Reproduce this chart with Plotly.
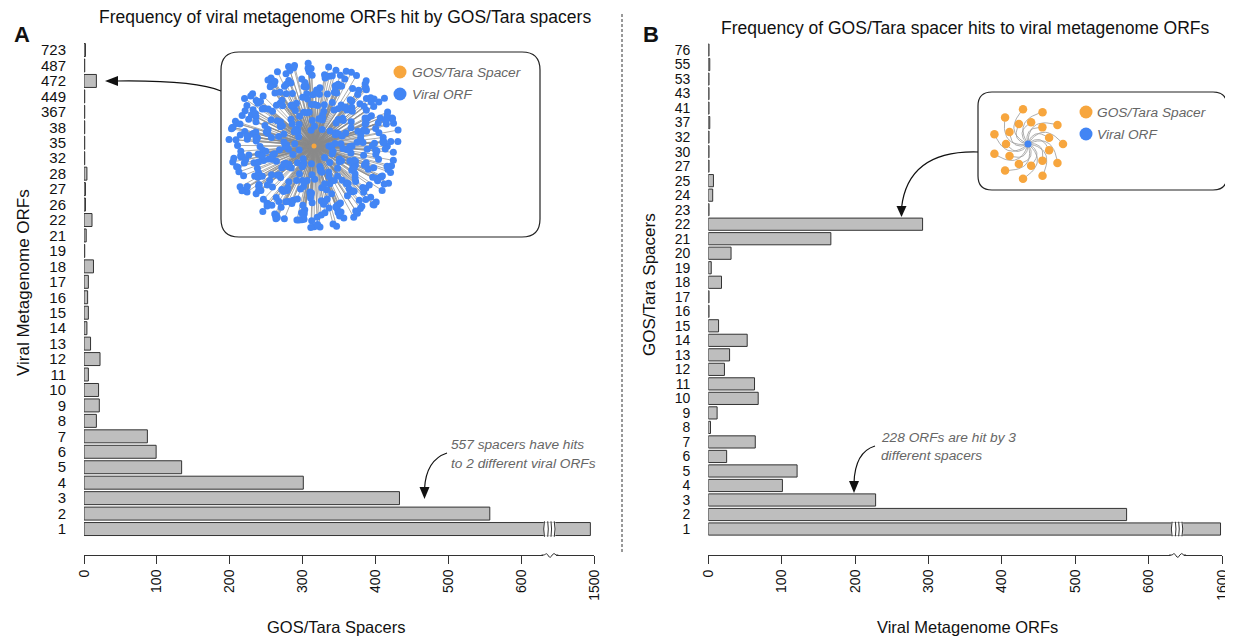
import numpy as np
import plotly.graph_objects as go

FONT = "Liberation Sans, Arial, Helvetica, sans-serif"

# ---------------- data ----------------
# Panel A: number of viral ORFs hit by a spacer (category) -> number of spacers
a_labels = ["1", "2", "3", "4", "5", "6", "7", "8", "9", "10", "11", "12", "13", "14",
            "15", "16", "17", "18", "19", "21", "22", "26", "27", "28", "32", "35", "38",
            "367", "449", "472", "487", "723"]
a_values = [1495, 557, 433, 301, 134, 99, 87, 17, 21, 20, 6, 22, 9, 4,
            6, 5, 6, 13, 1, 3, 11, 2, 2, 4, 1, 1, 1,
            1, 1, 17, 1, 2]
a_ticks = [0, 100, 200, 300, 400, 500, 600, 1500]

# Panel B: number of spacers hitting an ORF (category) -> number of ORFs
b_labels = ["1", "2", "3", "4", "5", "6", "7", "8", "9", "10", "11", "12", "13", "14",
            "15", "16", "17", "18", "19", "20", "21", "22", "23", "24", "25", "27", "30",
            "32", "37", "41", "43", "53", "55", "76"]
b_values = [1598, 570, 228, 101, 121, 25, 64, 3, 12, 68, 63, 22, 29, 53,
            14, 1, 1, 18, 4, 31, 167, 292, 1, 6, 7, 1, 1,
            1, 2, 1, 1, 1, 2, 1]
b_ticks = [0, 100, 200, 300, 400, 500, 600, 1600]

inset_a_nodes = 472   # ORFs hit by a single spacer (bar "472")
inset_b_nodes = 22    # spacers hitting a single ORF (bar "22")

BREAK = 650   # axis is broken above this value
TOP = 700     # display position of the last (post-break) tick


def shown(v, top_value):
    return v if v <= BREAK else TOP - (top_value - v)


# page geometry: the figure sits 8px in from the window corner (body margin)
SW, SH = 1233, 638
OX, OY = 8, 8
FW, FH = SW - OX, SH - OY


def dx(s):
    return (s - OX) / FW


def dy(s):
    return 1 - (s - OY) / FH


GREY = "#BEBEBE"
EDGE = "#333333"
BLUE = "#4285F4"
ORANGE = "#F7A63E"

fig = go.Figure()

fig.add_trace(go.Bar(
    x=[shown(v, a_ticks[-1]) for v in a_values], y=list(range(len(a_labels))),
    orientation="h", width=0.84, marker=dict(color=GREY, line=dict(color=EDGE, width=1)),
    customdata=a_values, hovertemplate="%{customdata}<extra></extra>",
    xaxis="x", yaxis="y"))
fig.add_trace(go.Bar(
    x=[shown(v, b_ticks[-1]) for v in b_values], y=list(range(len(b_labels))),
    orientation="h", width=0.84, marker=dict(color=GREY, line=dict(color=EDGE, width=1)),
    customdata=b_values, hovertemplate="%{customdata}<extra></extra>",
    xaxis="x2", yaxis="y2"))

# ---------------- inset A network (screen-pixel overlay axes) ----------------
cxa, cya, Ra = 314, 146, 86
i = np.arange(inset_a_nodes)
u = 0.03 + 0.97 * ((i * 0.41421356) % 1.0)
r = Ra * u ** 0.5
th = i * 2.39996 + 0.6 * np.sin(i * 1.7)
nxa = cxa + r * np.cos(th)
nya = cya + r * np.sin(th) * 0.97
ex, ey = [], []
for x, y in zip(nxa, nya):
    ex += [cxa, x, None]
    ey += [cya, y, None]
fig.add_trace(go.Scatter(x=ex, y=ey, mode="lines", line=dict(color="#8a8a8a", width=0.7),
                         hoverinfo="skip", xaxis="x3", yaxis="y3"))
fig.add_trace(go.Scatter(x=nxa, y=nya, mode="markers", marker=dict(color=BLUE, size=7),
                         hoverinfo="skip", xaxis="x3", yaxis="y3"))
fig.add_trace(go.Scatter(x=[cxa], y=[cya], mode="markers", marker=dict(color=ORANGE, size=5),
                         hoverinfo="skip", xaxis="x3", yaxis="y3"))

# ---------------- inset B network ----------------
cxb, cyb = 1028, 144
bx, by, ebx, eby = [], [], [], []
t = np.linspace(0, 1, 16)
for k in range(inset_b_nodes):
    ang = 2 * np.pi * k / inset_b_nodes
    rr = 35 if k % 2 == 0 else 22
    x2, y2 = cxb + rr * np.cos(ang), cyb + rr * np.sin(ang)
    c1x = cxb + 0.8 * rr * np.cos(ang - 1.0)
    c1y = cyb + 0.8 * rr * np.sin(ang - 1.0)
    qx = (1 - t) ** 2 * cxb + 2 * (1 - t) * t * c1x + t ** 2 * x2
    qy = (1 - t) ** 2 * cyb + 2 * (1 - t) * t * c1y + t ** 2 * y2
    ebx += list(qx) + [None]
    eby += list(qy) + [None]
    bx.append(x2)
    by.append(y2)
fig.add_trace(go.Scatter(x=ebx, y=eby, mode="lines", line=dict(color="#999999", width=0.8),
                         hoverinfo="skip", xaxis="x3", yaxis="y3"))
fig.add_trace(go.Scatter(x=bx, y=by, mode="markers", marker=dict(color=ORANGE, size=8.5),
                         hoverinfo="skip", xaxis="x3", yaxis="y3"))
fig.add_trace(go.Scatter(x=[cxb], y=[cyb], mode="markers", marker=dict(color=BLUE, size=7),
                         hoverinfo="skip", xaxis="x3", yaxis="y3"))

# legend dots inside insets
fig.add_trace(go.Scatter(x=[400, 400, 1086, 1086], y=[72, 94, 112, 134], mode="markers",
                         marker=dict(color=[ORANGE, BLUE, ORANGE, BLUE], size=13),
                         hoverinfo="skip", xaxis="x3", yaxis="y3"))

# ---------------- axes ----------------
ytop = 40
yaxis_line = 555
ax_common = dict(showgrid=False, zeroline=False, fixedrange=True, automargin=False)
xa = dict(range=[0, TOP], showline=True, linecolor=EDGE, linewidth=1, ticks="outside", ticklen=8,
          tickcolor=EDGE, tickangle=-90, tickfont=dict(size=14, color="#111"),
          ticklabeloverflow="allow", **ax_common)
fig.update_layout(
    xaxis=dict(domain=[dx(84), dx(594)], anchor="y",
               tickvals=[shown(v, a_ticks[-1]) for v in a_ticks], ticktext=[str(v) for v in a_ticks], **xa),
    yaxis=dict(domain=[dy(yaxis_line), dy(ytop)], range=[-1.68, 31.65], anchor="x",
               tickvals=list(range(len(a_labels))), ticktext=a_labels, ticks="",
               ticklabelstandoff=17, showline=False, tickfont=dict(size=15, color="#111"), **ax_common),
    xaxis2=dict(domain=[dx(708.3), dx(1222)], anchor="y2",
                tickvals=[shown(v, b_ticks[-1]) for v in b_ticks], ticktext=[str(v) for v in b_ticks], **xa),
    yaxis2=dict(domain=[dy(yaxis_line), dy(ytop)], range=[-1.79, 33.69], anchor="x2",
                tickvals=list(range(len(b_labels))), ticktext=b_labels, ticks="",
                ticklabelstandoff=17, showline=False, tickfont=dict(size=14, color="#111"), **ax_common),
    xaxis3=dict(domain=[0, 1], range=[OX, SW], visible=False, anchor="y3", **ax_common),
    yaxis3=dict(domain=[0, 1], range=[SH, OY], visible=False, anchor="x3", **ax_common),
)


def rounded(x0, y0, x1, y1, rad):
    return (f"M {x0 + rad},{y0} L {x1 - rad},{y0} Q {x1},{y0} {x1},{y0 + rad} "
            f"L {x1},{y1 - rad} Q {x1},{y1} {x1 - rad},{y1} L {x0 + rad},{y1} "
            f"Q {x0},{y1} {x0},{y1 - rad} L {x0},{y0 + rad} Q {x0},{y0} {x0 + rad},{y0} Z")


shapes = []
P = dict(xref="x3", yref="y3")
# inset boxes
shapes.append(dict(type="path", path=rounded(221, 52, 540, 237, 18), fillcolor="white",
                   line=dict(color="#222", width=1.2), layer="below", **P))
shapes.append(dict(type="path", path=rounded(978, 92, 1227, 190, 14), fillcolor="white",
                   line=dict(color="#222", width=1.2), layer="below", **P))
# divider
shapes.append(dict(type="line", x0=622, x1=622, y0=14, y1=553,
                   line=dict(color="#333", width=1, dash="3px,2px"), **P))
# curved arrows
arrow_line = dict(color="#111", width=1.2)
shapes.append(dict(type="path", path="M 221,91 Q 195,80 116,81", line=arrow_line, **P))
shapes.append(dict(type="path", path="M 105,81 L 118,76 L 118,86 Z", fillcolor="#111", line=dict(width=0), **P))
shapes.append(dict(type="path", path="M 978,152 Q 908,150 901.5,208", line=arrow_line, **P))
shapes.append(dict(type="path", path="M 901.5,217 L 896.5,206 L 906.5,206 Z", fillcolor="#111", line=dict(width=0), **P))
shapes.append(dict(type="path", path="M 447,453 Q 426,460 424.5,489", line=arrow_line, **P))
shapes.append(dict(type="path", path="M 424.5,499 L 419.5,487 L 429.5,487 Z", fillcolor="#111", line=dict(width=0), **P))
shapes.append(dict(type="path", path="M 875,446 Q 855,452 854,483", line=arrow_line, **P))
shapes.append(dict(type="path", path="M 854,493 L 849,481 L 859,481 Z", fillcolor="#111", line=dict(width=0), **P))

# axis breaks (display units on x, indices / screen pixels on y)
for xr, yr in (("x", "y"), ("x2", "y2")):
    shapes.append(dict(type="rect", xref=xr, yref=yr, x0=631, x1=647, y0=-0.44, y1=0.44,
                       fillcolor="white", line=dict(width=0), layer="above"))
    for xb, bend in ((632, -2), (636.5, 1.5), (641, 1.5), (645.5, 2)):
        shapes.append(dict(type="path", xref=xr, yref=yr,
                           path=f"M {xb},-0.5 Q {xb + bend},0 {xb},0.5",
                           line=dict(color=EDGE, width=1), layer="above"))
    shapes.append(dict(type="line", xref=xr, yref="y3", x0=630, x1=648, y0=555, y1=555,
                       line=dict(color="white", width=3), layer="above"))
    shapes.append(dict(type="path", xref=xr, yref="y3",
                       path="M 628,555 L 632,555 Q 635,552 637.5,556 Q 640,559 642.5,555 Q 645,552 648,555 L 651,555",
                       line=dict(color=EDGE, width=1), layer="above"))

fig.update_layout(shapes=shapes)

# ---------------- texts ----------------
ann = []


def text(x, y, s, size=16, color="#111", xanchor="center", angle=0, weight=None):
    f = dict(family=FONT, size=size, color=color)
    if weight:
        f["weight"] = weight
    ann.append(dict(x=x, y=y, xref="x3", yref="y3", text=s, showarrow=False, font=f,
                    xanchor=xanchor, yanchor="middle", textangle=angle))


text(345, 17, "Frequency of viral metagenome ORFs hit by GOS/Tara spacers", size=17.5)
text(965, 28, "Frequency of GOS/Tara spacer hits to viral metagenome ORFs", size=17.5)
text(22, 34, "A", size=22, weight="bold")
text(651, 34, "B", size=22, weight="bold")
text(23, 283, "Viral Metagenome ORFs", size=17, angle=-90)
text(649, 285, "GOS/Tara Spacers", size=17, angle=-90)
text(336, 627, "GOS/Tara Spacers", size=16.5)
text(967, 627, "Viral Metagenome ORFs", size=16.5)
it = "#666"
text(449, 444, "<i>557 spacers have hits</i>", size=13.7, color=it, xanchor="left")
text(449, 463, "<i>to 2 different viral ORFs</i>", size=13.7, color=it, xanchor="left")
text(879, 437, "<i>228 ORFs are hit by 3</i>", size=13.7, color=it, xanchor="left")
text(879, 455, "<i>different spacers</i>", size=13.7, color=it, xanchor="left")
text(410, 72, "<i>GOS/Tara Spacer</i>", size=13.7, color=it, xanchor="left")
text(410, 94, "<i>Viral ORF</i>", size=13.7, color=it, xanchor="left")
text(1095, 112, "<i>GOS/Tara Spacer</i>", size=13.7, color=it, xanchor="left")
text(1095, 134, "<i>Viral ORF</i>", size=13.7, color=it, xanchor="left")

fig.update_layout(
    annotations=ann, width=FW, height=FH, autosize=False,
    margin=dict(l=0, r=0, t=0, b=0, autoexpand=False), showlegend=False,
    paper_bgcolor="white", plot_bgcolor="rgba(0,0,0,0)",
    font=dict(family=FONT, color="#111"), bargap=0.15,
)

fig.write_html("out.html")
